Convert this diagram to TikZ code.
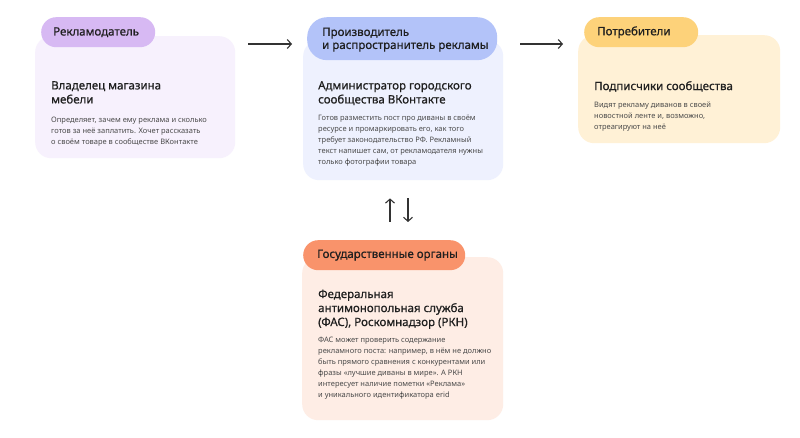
\documentclass[tikz,border=0pt]{standalone}
\usepackage{fontspec}
\setmainfont{Noto Sans}
\newfontfamily\medfont{Noto Sans}[FakeBold=0.7]
\usetikzlibrary{arrows.meta}
\definecolor{pillA}{HTML}{D7B9F3}
\definecolor{cardA}{HTML}{F7F1FD}
\definecolor{pillB}{HTML}{B3C3F9}
\definecolor{cardB}{HTML}{EEF1FE}
\definecolor{pillC}{HTML}{FDD27A}
\definecolor{cardC}{HTML}{FFF1D6}
\definecolor{pillD}{HTML}{F9936B}
\definecolor{cardD}{HTML}{FEEDE5}
\definecolor{titlecol}{HTML}{1F1F1F}
\definecolor{bodycol}{HTML}{4A4A4A}
\definecolor{arrcol}{HTML}{333333}
\tikzset{
  card/.style={rectangle, rounded corners=16pt, draw=none, inner sep=0pt, anchor=north west},
  pill/.style={rectangle, draw=none, inner sep=0pt, anchor=north west},
  pilltext/.style={anchor=west, inner sep=0pt, align=left, text=titlecol, font=\medfont\fontsize{11.5}{13}\selectfont},
  titletext/.style={anchor=north west, inner sep=0pt, align=left, text=titlecol, font=\medfont\fontsize{11.5}{14}\selectfont},
  bodytext/.style={anchor=north west, inner sep=0pt, align=left, text=bodycol, font=\fontsize{7.5}{11}\selectfont},
  arr/.style={draw=arrcol, line width=1.1pt, -{Straight Barb[length=4pt,width=9pt,line width=1.1pt]}},
}
\begin{document}
\begin{tikzpicture}[x=1pt,y=-1pt]
\useasboundingbox[fill=white] (0,0) rectangle (800,438);
% cards
\node[card, fill=cardA, minimum width=200pt, minimum height=122pt] (c1) at (35,36) {};
\node[card, fill=cardB, minimum width=200pt, minimum height=140pt] (c2) at (303,40) {};
\node[card, fill=cardC, minimum width=202pt, minimum height=108pt] (c3) at (578,35) {};
\node[card, fill=cardD, minimum width=201pt, minimum height=163pt] (c4) at (302,257) {};
% pills
\node[pill, fill=pillA, rounded corners=15pt, minimum width=114pt, minimum height=30pt] (p1) at (41,17) {};
\node[pill, fill=pillB, rounded corners=20pt, minimum width=190pt, minimum height=43pt] (p2) at (307,17) {};
\node[pill, fill=pillC, rounded corners=15pt, minimum width=114pt, minimum height=30pt] (p3) at (584,17) {};
\node[pill, fill=pillD, rounded corners=15pt, minimum width=162pt, minimum height=30pt] (p4) at (303,240) {};
% pill texts
\node[pilltext] (pt1) at ([xshift=12pt]p1.west) {Рекламодатель};
\node[pilltext] (pt2) at ([xshift=15pt,yshift=-1pt]p2.west) {Производитель\\и распространитель рекламы};
\node[pilltext] (pt3) at ([xshift=13pt]p3.west) {Потребители};
\node[pilltext] (pt4) at ([xshift=14pt]p4.west) {Государственные органы};
% titles
\node[titletext] (t1) at (51,81) {Владелец магазина\\мебели};
\node[titletext] (t2) at (318,81) {Администратор городского\\сообщества ВКонтакте};
\node[titletext] (t3) at (594,81) {Подписчики сообщества};
\node[titletext] (t4) at (318,289.5) {Федеральная\\антимонопольная служба\\(ФАС), Роскомнадзор (РКН)};
% bodies
\node[bodytext] (b1) at (51,116.5) {Определяет, зачем ему реклама и сколько\\готов за неё заплатить. Хочет рассказать\\о своём товаре в сообществе ВКонтакте};
\node[bodytext] (b2) at (318,115) {Готов разместить пост про диваны в своём\\ресурсе и промаркировать его, как того\\требует законодательство РФ. Рекламный\\текст напишет сам, от рекламодателя нужны\\только фотографии товара};
\node[bodytext] (b3) at (594,102) {Видят рекламу диванов в своей\\новостной ленте и, возможно,\\отреагируют на неё};
\node[bodytext] (b4) at (318,337) {ФАС может проверить содержание\\рекламного поста: например, в нём не должно\\быть прямого сравнения с конкурентами или\\фразы «лучшие диваны в мире». А РКН\\интересует наличие пометки «Реклама»\\и уникального идентификатора erid};
% connectors
\coordinate (ylevel) at (0,44);
\draw[arr, shorten <=13pt, shorten >=11pt] (c1.east |- ylevel) -- (c2.west |- ylevel);
\draw[arr, shorten <=17pt, shorten >=15pt] (c2.east |- ylevel) -- (c3.west |- ylevel);
\coordinate (xup) at (390,0);
\coordinate (xdown) at (408,0);
\draw[arr, shorten <=35pt, shorten >=18pt] (xup |- c4.north) -- (xup |- c2.south);
\draw[arr, shorten <=18pt, shorten >=35pt] (xdown |- c2.south) -- (xdown |- c4.north);
\end{tikzpicture}
\end{document}
